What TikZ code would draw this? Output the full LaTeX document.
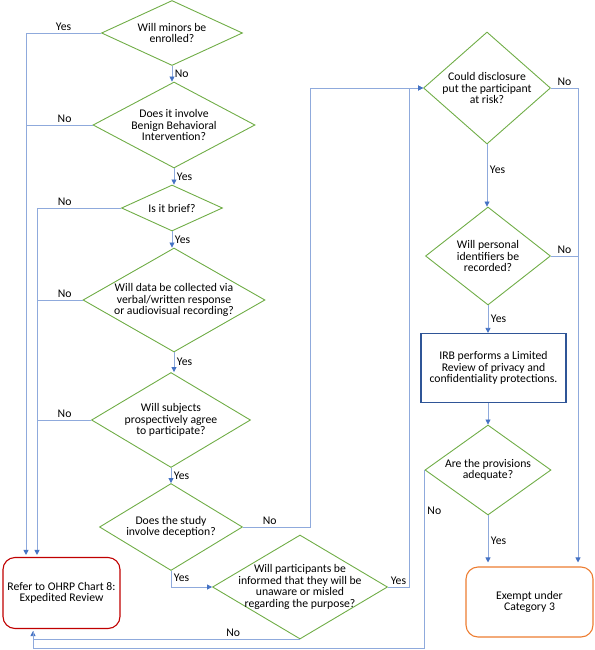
\documentclass[tikz,border=0pt]{standalone}
\usepackage{fontspec}
\setmainfont{Carlito}
\usetikzlibrary{arrows.meta, positioning, shapes.geometric, calc}

\definecolor{qgreen}{HTML}{70AD47}
\definecolor{linkblue}{HTML}{8FAADC}
\definecolor{tipblue}{HTML}{4472C4}
\definecolor{boxblue}{HTML}{2F5597}
\definecolor{referred}{HTML}{C00000}
\definecolor{exemptorange}{HTML}{ED7D31}

\begin{document}
\begin{tikzpicture}[
    x=1pt, y=-1pt,
    font=\fontsize{11.7}{11.6}\selectfont,
    question/.style={diamond, draw=qgreen, line width=0.9pt, inner sep=0pt},
    qtext/.style={align=center, inner sep=0pt},
    action/.style={draw=boxblue, line width=1.2pt, minimum width=145pt,
                   minimum height=69pt, align=center, inner sep=2pt},
    outcome/.style={draw, rounded corners=12pt, line width=1.1pt, align=center},
    link/.style={draw=linkblue, line width=0.8pt},
    flow/.style={link, -{Triangle[length=5pt, width=5pt, color=tipblue]}},
    edgelbl/.style={inner sep=2.5pt},
]
\useasboundingbox (0,0) rectangle (594,650);

% --------- Left column of questions ----------
\node[question, minimum width=141pt, minimum height=65pt,
      label={[qtext]center:Will minors be\\enrolled?}] (minors) at (172,33) {};
\node[question, minimum width=162pt, minimum height=86pt,
      label={[qtext]center:Does it involve\\Benign Behavioral\\Intervention?}] (benign) at (174,125) {};
\node[question, minimum width=101pt, minimum height=46pt,
      label={[qtext]center:Is it brief?}] (brief) at (172,208) {};
\node[question, minimum width=182pt, minimum height=104pt,
      label={[qtext]center:Will data be collected via\\verbal/written response\\or audiovisual recording?}] (data) at (174,300) {};
\node[question, minimum width=159pt, minimum height=95pt,
      label={[qtext]center:Will subjects\\prospectively agree\\to participate?}] (subjects) at (171,420) {};
\node[question, minimum width=143pt, minimum height=87pt,
      label={[qtext]center:Does the study\\involve deception?}] (deception) at (171,527) {};
\node[question, minimum width=175pt, minimum height=104pt,
      label={[qtext]center:Will participants be\\informed that they will be\\unaware or misled\\regarding the purpose?}] (participants) at (300,587) {};

% --------- Right column ----------
\node[question, minimum width=127pt, minimum height=112pt,
      label={[qtext]center:Could disclosure\\put the participant\\at risk?}] (disclosure) at (487,88) {};
\node[question, minimum width=125pt, minimum height=98pt,
      label={[qtext]center:Will personal\\identifiers be\\recorded?}] (identifiers) at (488,256) {};
\node[action] (irb) at (493.5,368) {IRB performs a Limited\\Review of privacy and\\confidentiality protections.};
\node[question, minimum width=126pt, minimum height=90pt,
      label={[qtext]center:Are the provisions\\adequate?}] (provisions) at (488,470) {};

% --------- Outcomes ----------
\node[outcome, draw=referred, minimum width=117pt, minimum height=71pt] (refer) at (61.5,593)
      {Refer to OHRP Chart 8:\\Expedited Review};
\node[outcome, draw=exemptorange, minimum width=127pt, minimum height=70pt] (exempt) at (529.5,602)
      {Exempt under\\Category 3};

\coordinate (busL) at ([xshift=-35.5pt]refer.north);
\coordinate (busR) at ([xshift=-24.5pt]refer.north);
\coordinate (busB) at ([xshift=-28.5pt]refer.south);
\coordinate (busE) at ([xshift=48.5pt]exempt.north);

% main line down the left
\draw[flow] (minors.south) -- (minors.south |- benign.north) node[midway, right, edgelbl]{No};
\draw[flow] (benign.south) -- (benign.south |- brief.north) node[midway, right, edgelbl]{Yes};
\draw[flow] (brief.south) -- (brief.south |- data.north) node[midway, right, edgelbl]{Yes};
\draw[flow] (data.south) -- (data.south |- subjects.north) node[midway, right, edgelbl]{Yes};
\draw[flow] (subjects.south) -- (subjects.south |- deception.north) node[midway, right, edgelbl]{Yes};

% exits to expedited review
\draw[flow] (minors.west) -| ([yshift=2pt]busL) node[pos=.25, above, edgelbl]{Yes};
\draw[link] (benign.west) -- (benign.west -| busL) node[pos=.42, above, edgelbl]{No};
\draw[flow] (brief.west) -| ([yshift=2pt]busR) node[pos=.335, above, edgelbl]{No};
\draw[link] (data.west) -- (data.west -| busR) node[pos=.39, above, edgelbl]{No};
\draw[link] (subjects.west) -- (subjects.west -| busR) node[pos=.49, above, edgelbl]{No};

% deception branch
\draw[flow] (deception.south) |- (participants.west) node[pos=.2, right, edgelbl]{Yes};
\draw[flow] (deception.east) -- node[pos=.4, above, edgelbl]{No} ++(67,0) |- (disclosure.west);
\draw[flow] (participants.east) -- node[pos=.5, above, edgelbl]{Yes} ++(21,0) |- (disclosure.west);
\draw[flow] (participants.south) -| ([yshift=-2pt]busB) node[pos=.125, above, edgelbl]{No};

% right column
\draw[flow] (disclosure.south) -- (disclosure.south |- identifiers.north) node[pos=.4, right, edgelbl]{Yes};
\draw[flow] (identifiers.south) -- (identifiers.south |- irb.north) node[midway, right, edgelbl]{Yes};
\draw[flow] (irb.south -| provisions.north) -- (provisions.north);
\draw[flow, shorten >=4pt] (provisions.south) -- (provisions.south |- exempt.north) node[midway, right, edgelbl]{Yes};
\draw[link] (provisions.west) -- node[pos=.23, right, edgelbl]{No} ++(0,178) -| ([yshift=-2pt]busB);
\draw[flow, shorten >=4pt] (disclosure.east) -| (busE) node[pos=.25, above, edgelbl]{No};
\draw[link] (identifiers.east) -- (identifiers.east -| busE) node[midway, above, edgelbl]{No};

\end{tikzpicture}
\end{document}
